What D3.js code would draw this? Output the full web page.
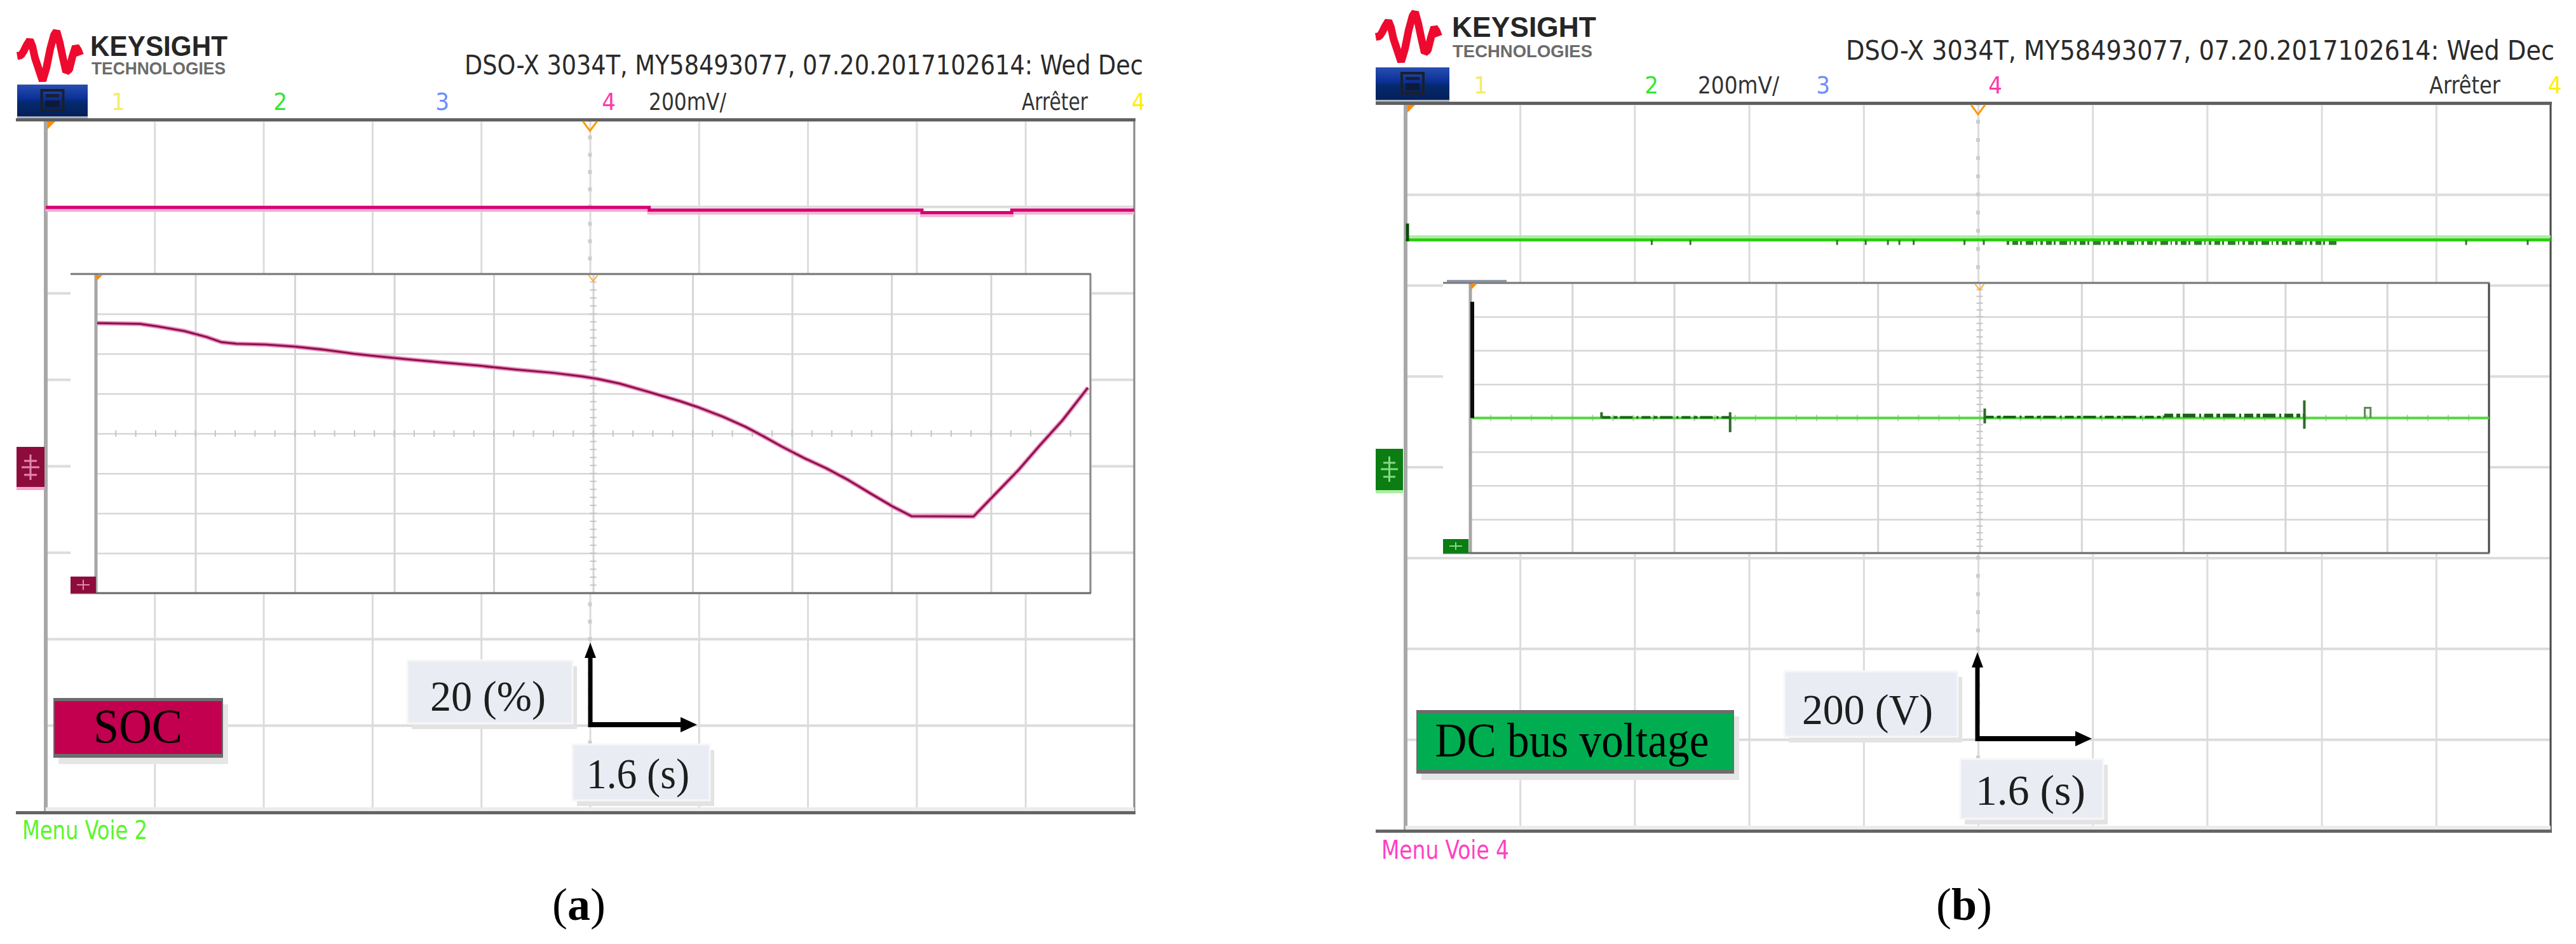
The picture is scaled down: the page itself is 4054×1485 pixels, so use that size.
<!DOCTYPE html>
<html><head><meta charset="utf-8">
<script src="https://cdn.jsdelivr.net/npm/d3@7"></script>
<style>html,body{margin:0;padding:0;background:#fff;}svg{display:block}</style>
</head><body>
<svg id="chart" width="4054" height="1485"></svg>
<script>
// ================= DATA =================
// time axis: 1.6 s / division, 10 divisions ; vertical: 8 divisions
const gridTimes = [0, 1.6, 3.2, 4.8, 6.4, 8, 9.6, 11.2, 12.8, 14.4, 16];
const gridLevels = [0, 1, 2, 3, 4, 5, 6, 7, 8];

// (a) SOC – zoomed inset trace (time s, level in divisions from bottom)
const socTime  = [0.02, 0.71, 1.01, 1.42, 1.78, 2.02, 2.26, 2.73, 3.20, 3.68, 4.15, 4.63, 5.10, 5.58, 6.17, 6.77, 7.36, 7.83, 8.07, 8.43, 8.90, 9.38, 9.67, 10.09, 10.45, 10.74, 11.04, 11.40, 11.75, 12.11, 12.46, 12.82, 13.12, 14.12, 14.48, 14.84, 15.19, 15.55, 15.96];
const socLevel = [6.77, 6.75, 6.68, 6.57, 6.42, 6.29, 6.25, 6.23, 6.18, 6.10, 6.00, 5.92, 5.85, 5.78, 5.70, 5.60, 5.52, 5.43, 5.37, 5.25, 5.04, 4.82, 4.67, 4.42, 4.17, 3.93, 3.67, 3.38, 3.13, 2.83, 2.50, 2.17, 1.93, 1.92, 2.50, 3.08, 3.71, 4.33, 5.15];
// (a) SOC – full-screen trace (step line)
const socOuterTime  = [0, 8.87, 12.88, 14.20, 16];
const socOuterLevel = [6.99, 6.96, 6.93, 6.96, 6.96];

// (b) DC bus voltage – zoomed inset trace
const busTime  = [0.03, 16];
const busLevel = [4.0, 4.0];
const busStartSpikeTime = 0.03, busStartSpikeLevel = 7.44;
const busSpikeTime = [2.06, 4.08, 8.08, 13.10];
const busSpikeLow  = [4.00, 3.58, 3.84, 3.68];
const busSpikeHigh = [4.17, 4.17, 4.28, 4.52];
const busPulseTime = [14.05, 14.14];
const busPulseLevel = 4.30;
const busNoiseStart = [2.06, 8.08, 10.9];
const busNoiseEnd   = [4.08, 10.9, 13.10];
const busNoiseLevel = [4.02, 4.03, 4.07];
// (b) DC bus voltage – full-screen trace
const busOuterTime  = [0, 16];
const busOuterLevel = [6.5, 6.5];
const busOuterSpikeLevel = 6.68;
const busOuterGlitchTime = [3.44, 3.98, 6.03, 6.43, 6.74, 6.90, 7.10, 7.81, 8.08, 14.82, 15.68];
const busOuterNoiseStart = 8.40, busOuterNoiseEnd = 13.04;

// texts
const headerText = "DSO-X 3034T, MY58493077, 07.20.2017102614: Wed Dec";
const chanLabelsA = ["1", "2", "3", "4", "200mV/", "Arrêter"];
const chanLabelsB = ["1", "2", "200mV/", "3", "4", "Arrêter"];

// ================= LAYOUT / STYLE =================
const svg = d3.select("#chart");
svg.append("rect").attr("width", 4054).attr("height", 1485).attr("fill", "#fff");
const defs = svg.append("defs");

const NARROW = "'Liberation Sans Narrow','DejaVu Sans Condensed','Liberation Sans',sans-serif";
const SERIF = "'Liberation Serif','Times New Roman',serif";

const panels = [
  {
    id: "a", logo: [27, 47], kx: 142, ky: 88, tx: 144, ty: 117, kw: 216, tw: 211,
    header: { x: 731, y: 117, w: 1068 }, btn: [27, 133, 111, 50], lblY: 173,
    labels: chanLabelsA,
    lblPos: [{ x: 186, c: "#f2ec6a" }, { x: 441, c: "#33e633" }, { x: 696, c: "#6b8cff" }, { x: 958, c: "#ff3aa6" }, { x: 1021, w: 122, c: "#333" }, { x: 1608, w: 104, c: "#333" }],
    yel: 1781, clipR: 1800,
    bar0: 25, sx0: 72, sx1: 1785, sy0: 189, sy1: 1277,
    ix: 111, ix0: 151, ix1: 1716, iy0: 431, iy1: 933,
    chMark: [26, 703, 44, 63], inMark: [111, 907, 40, 26], markCol: "#8e0c3c", markLight: "#f6a8cc",
    rightCol: "#8a8a8a", insetRightCol: "#8c8c8c",
    tag: { x: 84, y: 1098, w: 267, h: 94, fill: "#c2004f", text: "SOC", tx: 217, ty: 1168, fs: 76, tw: 140 },
    vbox: { x: 641, y: 1039, w: 260, h: 99, text: "20 (%)", tx: 677, ty: 1118, tw: 182 },
    hbox: { x: 901, y: 1171, w: 216, h: 88, text: "1.6 (s)", tx: 923, ty: 1240, tw: 162 },
    arrow: { x: 929, top: 1011, y: 1140, right: 1097 },
    menu: { text: "Menu Voie 2", x: 35, y: 1320, w: 197, c: "#5cf52a" },
    cap: { t: "a", x: 911, y: 1447 }
  },
  {
    id: "b", logo: [2165, 17], kx: 2285, ky: 58, tx: 2286, ty: 90, kw: 227, tw: 220,
    header: { x: 2905, y: 94, w: 1115 }, btn: [2165, 106, 116, 51], lblY: 147,
    labels: chanLabelsB,
    lblPos: [{ x: 2330, c: "#f2ec6a" }, { x: 2599, c: "#33e633" }, { x: 2672, w: 128, c: "#333" }, { x: 2869, c: "#6b8cff" }, { x: 3140, c: "#ff3aa6" }, { x: 3823, w: 112, c: "#333" }],
    yel: 4010, clipR: 4054,
    bar0: 2165, sx0: 2212, sx1: 4014, sy0: 163, sy1: 1306,
    ix: 2271, ix0: 2314, ix1: 3917, iy0: 445, iy1: 870,
    chMark: [2165, 706, 43, 65], inMark: [2271, 848, 40, 22], markCol: "#0b7d12", markLight: "#a8f0a0",
    rightCol: "#4a4a4a", insetRightCol: "#454545",
    tag: { x: 2229, y: 1117, w: 500, h: 100, fill: "#00ad50", text: "DC bus voltage", tx: 2474, ty: 1190, fs: 76, tw: 431 },
    vbox: { x: 2808, y: 1056, w: 273, h: 103, text: "200 (V)", tx: 2836, ty: 1139, tw: 206 },
    hbox: { x: 3085, y: 1194, w: 225, h: 94, text: "1.6 (s)", tx: 3109, ty: 1266, tw: 173 },
    arrow: { x: 3112, top: 1026, y: 1162, right: 3292 },
    menu: { text: "Menu Voie 4", x: 2174, y: 1351, w: 201, c: "#ff40c4" },
    cap: { t: "b", x: 3091, y: 1447 }
  }
];

function gridAxes(g, xs, ys, y0, y1, x0, x1, col, wv, wh) {
  g.append("g").attr("transform", `translate(0,${y1})`)
    .call(d3.axisBottom(xs).tickValues(gridTimes).tickSize(-(y1 - y0)).tickFormat(""))
    .call(s => { s.select(".domain").remove(); s.selectAll("line").attr("stroke", col).attr("stroke-width", wv); });
  g.append("g").attr("transform", `translate(${x0},0)`)
    .call(d3.axisLeft(ys).tickValues(gridLevels).tickSize(-(x1 - x0)).tickFormat(""))
    .call(s => { s.select(".domain").remove(); s.selectAll("line").attr("stroke", col).attr("stroke-width", wh); });
}

panels.forEach(P => {
  const g = svg.append("g");
  defs.append("clipPath").attr("id", "clip" + P.id).append("rect")
    .attr("x", P.bar0 - 30).attr("y", 0).attr("width", P.clipR - P.bar0 + 30).attr("height", 1485);
  const gc = g.append("g").attr("clip-path", `url(#clip${P.id})`);

  // ---- logo ----
  const [lx, ly] = P.logo;
  const wave = [[0, 41], [6, 40], [10, 34], [15, 24], [20, 16], [24, 26], [28, 44], [34, 62], [40, 80], [46, 60], [52, 30], [58, 8], [62, 2], [67, 20], [72, 44], [77, 66], [82, 62], [87, 42], [92, 26], [96, 32], [99, 40]];
  gc.append("path").attr("d", d3.line().x(d => lx + d[0]).y(d => ly + d[1])(wave))
    .attr("fill", "none").attr("stroke", "#ee0a2e").attr("stroke-width", 12).attr("stroke-linejoin", "bevel");
  gc.append("text").attr("x", P.kx).attr("y", P.ky).text("KEYSIGHT")
    .attr("font-family", "'Liberation Sans',Arial,sans-serif").attr("font-weight", "bold").attr("font-size", 45)
    .attr("fill", "#262626").attr("textLength", P.kw).attr("lengthAdjust", "spacingAndGlyphs");
  gc.append("text").attr("x", P.tx).attr("y", P.ty).text("TECHNOLOGIES")
    .attr("font-family", "'Liberation Sans',Arial,sans-serif").attr("font-weight", "bold").attr("font-size", 27)
    .attr("fill", "#6b6b6b").attr("textLength", P.tw).attr("lengthAdjust", "spacingAndGlyphs");

  // ---- header ----
  gc.append("text").attr("x", P.header.x).attr("y", P.header.y).text(headerText)
    .attr("font-family", NARROW).attr("font-size", 42).attr("fill", "#2a2a2a")
    .attr("textLength", P.header.w).attr("lengthAdjust", "spacingAndGlyphs");

  // ---- menu button ----
  const [bx, by, bw, bh] = P.btn;
  const grad = defs.append("linearGradient").attr("id", "btn" + P.id).attr("x1", 0).attr("x2", 0).attr("y1", 0).attr("y2", 1);
  grad.append("stop").attr("offset", 0).attr("stop-color", "#2a4fb0");
  grad.append("stop").attr("offset", 0.45).attr("stop-color", "#0a2f96");
  grad.append("stop").attr("offset", 0.55).attr("stop-color", "#052a6e");
  grad.append("stop").attr("offset", 1).attr("stop-color", "#041f5a");
  gc.append("rect").attr("x", bx).attr("y", by).attr("width", bw).attr("height", bh).attr("fill", `url(#btn${P.id})`);
  gc.append("rect").attr("x", bx).attr("y", by + bh).attr("width", bw).attr("height", 5).attr("fill", "#aab4c4");
  gc.append("rect").attr("x", bx + bw / 2 - 17).attr("y", by + 9).attr("width", 34).attr("height", 32)
    .attr("fill", "none").attr("stroke", "#1a1f2e").attr("stroke-width", 4);
  gc.append("rect").attr("x", bx + bw / 2 - 11).attr("y", by + 15).attr("width", 22).attr("height", 5).attr("fill", "#1a1f2e");
  gc.append("rect").attr("x", bx + bw / 2 - 11).attr("y", by + 25).attr("width", 22).attr("height", 11).attr("fill", "#0f1a3a");

  // ---- channel labels ----
  P.labels.forEach((t, i) => {
    const p = P.lblPos[i];
    const tx = gc.append("text").attr("x", p.x).attr("y", P.lblY).text(t)
      .attr("font-family", NARROW).attr("font-size", 38).attr("fill", p.c)
      .attr("text-anchor", p.w ? "start" : "middle");
    if (p.w) tx.attr("textLength", p.w).attr("lengthAdjust", "spacingAndGlyphs");
  });
  gc.append("text").attr("x", P.yel).attr("y", P.lblY).text("4").attr("font-family", NARROW)
    .attr("font-size", 38).attr("fill", "#ffee00");

  // ---- outer screen ----
  const xO = d3.scaleLinear().domain([0, 16]).range([P.sx0, P.sx1]);
  const yO = d3.scaleLinear().domain([0, 8]).range([P.sy1, P.sy0]);
  gridAxes(g, xO, yO, P.sy0, P.sy1, P.sx0, P.sx1, "#dcdcdc", 3, 4);
  // centre dotted ticks
  const cx = xO(8);
  g.selectAll(null).data(d3.range(0, 8.001, 0.2)).join("rect")
    .attr("x", cx - 3).attr("y", d => yO(d) - 3).attr("width", 6).attr("height", 6).attr("fill", "#cdcdcd");
  // borders
  g.append("line").attr("x1", P.sx0).attr("x2", P.sx0).attr("y1", P.sy0).attr("y2", P.sy1).attr("stroke", "#a8a8a8").attr("stroke-width", 6);
  g.append("line").attr("x1", P.sx1).attr("x2", P.sx1).attr("y1", P.sy0).attr("y2", P.sy1).attr("stroke", P.rightCol).attr("stroke-width", 3);
  g.append("rect").attr("x", P.sx0).attr("y", P.sy1 - 7).attr("width", P.sx1 - P.sx0).attr("height", 6).attr("fill", "#ececec");
  g.append("rect").attr("x", P.bar0).attr("y", P.sy0 - 3).attr("width", P.sx1 - P.bar0 + 2).attr("height", 5).attr("fill", "#616161");
  g.append("rect").attr("x", P.bar0).attr("y", P.sy1 - 1).attr("width", P.sx1 - P.bar0 + 2).attr("height", 5).attr("fill", "#646464");
  // trigger markers
  g.append("path").attr("d", `M${P.sx0 - 1},${P.sy0 + 2}h16l-12,12v-12z`).attr("fill", "#ff8a00");
  g.append("path").attr("d", `M${cx - 11},${P.sy0 + 2}L${cx},${P.sy0 + 17}L${cx + 11},${P.sy0 + 2}`)
    .attr("fill", "none").attr("stroke", "#ff9a10").attr("stroke-width", 3);

  // channel marker on the left
  const [mx, my, mw, mh] = P.chMark;
  g.append("rect").attr("x", mx).attr("y", my).attr("width", mw).attr("height", mh).attr("fill", P.markCol);
  g.append("rect").attr("x", mx).attr("y", my + mh).attr("width", mw).attr("height", 5).attr("fill", P.markLight);
  g.append("path").attr("d", `M${mx + 8},${my + 32}h${mw - 16}M${mx + mw / 2},${my + 12}v40M${mx + 12},${my + 22}h${mw - 24}M${mx + 12},${my + 44}h${mw - 24}`)
    .attr("stroke", P.markLight).attr("stroke-width", 3).attr("opacity", 0.8);

  // outer traces
  if (P.id === "a") {
    const lo = d3.line().curve(d3.curveStepAfter).x((d, i) => xO(socOuterTime[i])).y(d => yO(d));
    g.append("path").attr("d", lo(socOuterLevel)).attr("transform", "translate(0,4)")
      .attr("fill", "none").attr("stroke", "#f3b1d1").attr("stroke-width", 6);
    g.append("path").attr("d", lo(socOuterLevel)).attr("fill", "none").attr("stroke", "#d80076").attr("stroke-width", 5);
  } else {
    const lo = d3.line().x((d, i) => xO(busOuterTime[i])).y(d => yO(d));
    g.append("path").attr("d", lo(busOuterLevel)).attr("transform", "translate(0,-5)")
      .attr("fill", "none").attr("stroke", "#aeeaa4").attr("stroke-width", 4);
    g.append("path").attr("d", lo(busOuterLevel)).attr("fill", "none").attr("stroke", "#27cf0a").attr("stroke-width", 5);
    g.append("line").attr("x1", xO(0) + 3).attr("x2", xO(0) + 3).attr("y1", yO(busOuterSpikeLevel)).attr("y2", yO(busOuterLevel[0]) + 2)
      .attr("stroke", "#0b4a0b").attr("stroke-width", 5);
    g.selectAll(null).data(busOuterGlitchTime).join("line")
      .attr("x1", d => xO(d)).attr("x2", d => xO(d)).attr("y1", yO(6.5)).attr("y2", yO(6.5) + 8)
      .attr("stroke", "#2c7d22").attr("stroke-width", 3);
    g.append("line").attr("x1", xO(busOuterNoiseStart)).attr("x2", xO(busOuterNoiseEnd))
      .attr("y1", yO(6.5) + 5).attr("y2", yO(6.5) + 5).attr("stroke", "#2e7e26").attr("stroke-width", 6)
      .attr("stroke-dasharray", "4 5 9 3 3 6 12 4 2 5");
  }

  // ---- inset (zoomed view) ----
  const xI = d3.scaleLinear().domain([0, 16]).range([P.ix0, P.ix1]);
  const yI = d3.scaleLinear().domain([0, 8]).range([P.iy1, P.iy0]);
  g.append("rect").attr("x", P.ix).attr("y", P.iy0).attr("width", P.ix1 - P.ix).attr("height", P.iy1 - P.iy0).attr("fill", "#fff");
  gridAxes(g, xI, yI, P.iy0, P.iy1, P.ix0, P.ix1, "#d6d6d6", 3, 2.5);
  const icx = xI(8), icy = yI(4);
  g.selectAll(null).data(d3.range(0, 8.001, 0.2)).join("line")
    .attr("x1", icx - 5).attr("x2", icx + 5).attr("y1", d => yI(d)).attr("y2", d => yI(d)).attr("stroke", "#c4c4c4").attr("stroke-width", 2);
  g.selectAll(null).data(d3.range(0, 16.001, 0.32)).join("line")
    .attr("x1", d => xI(d)).attr("x2", d => xI(d)).attr("y1", icy - 5).attr("y2", icy + 5).attr("stroke", "#c4c4c4").attr("stroke-width", 2);
  g.append("line").attr("x1", P.ix0).attr("x2", P.ix0).attr("y1", P.iy0).attr("y2", P.iy1).attr("stroke", "#a6a6a6").attr("stroke-width", 5);
  g.append("line").attr("x1", P.ix1).attr("x2", P.ix1).attr("y1", P.iy0).attr("y2", P.iy1).attr("stroke", P.insetRightCol).attr("stroke-width", 3);
  g.append("line").attr("x1", P.ix).attr("x2", P.ix1 + 1).attr("y1", P.iy0).attr("y2", P.iy0).attr("stroke", "#777").attr("stroke-width", 3);
  g.append("line").attr("x1", P.ix).attr("x2", P.ix1 + 1).attr("y1", P.iy1).attr("y2", P.iy1).attr("stroke", "#6a6a6a").attr("stroke-width", 3);
  g.append("path").attr("d", `M${P.ix0},${P.iy0 + 2}h10l-8,8z`).attr("fill", "#ff8a00");
  g.append("path").attr("d", `M${icx - 7},${P.iy0 + 2}L${icx},${P.iy0 + 11}L${icx + 7},${P.iy0 + 2}`)
    .attr("fill", "none").attr("stroke", "#ffab30").attr("stroke-width", 2);
  const [nx, ny, nw, nh] = P.inMark;
  g.append("rect").attr("x", nx).attr("y", ny).attr("width", nw).attr("height", nh).attr("fill", P.markCol);
  g.append("path").attr("d", `M${nx + 10},${ny + nh / 2}h${nw - 20}M${nx + nw / 2},${ny + 5}v${nh - 10}`)
    .attr("stroke", P.markLight).attr("stroke-width", 2).attr("opacity", 0.8);

  if (P.id === "a") {
    const li = d3.line().x((d, i) => xI(socTime[i])).y(d => yI(d));
    g.append("path").attr("d", li(socLevel)).attr("fill", "none").attr("stroke", "#ea8fbf").attr("stroke-width", 7).attr("stroke-linejoin", "round");
    g.append("path").attr("d", li(socLevel)).attr("fill", "none").attr("stroke", "#8c0f4a").attr("stroke-width", 3).attr("stroke-linejoin", "round");
  } else {
    g.append("line").attr("x1", P.ix + 6).attr("x2", P.ix + 100).attr("y1", P.iy0 - 3).attr("y2", P.iy0 - 3).attr("stroke", "#7e8aa0").attr("stroke-width", 3);
    const li = d3.line().x((d, i) => xI(busTime[i])).y(d => yI(d));
    g.append("path").attr("d", li(busLevel)).attr("fill", "none").attr("stroke", "#4fd83c").attr("stroke-width", 4);
    g.append("line").attr("x1", xI(busStartSpikeTime)).attr("x2", xI(busStartSpikeTime))
      .attr("y1", yI(busStartSpikeLevel)).attr("y2", yI(4.0)).attr("stroke", "#0b0b0b").attr("stroke-width", 6);
    g.selectAll(null).data(busNoiseStart).join("line")
      .attr("x1", d => xI(d)).attr("x2", (d, i) => xI(busNoiseEnd[i]))
      .attr("y1", (d, i) => yI(busNoiseLevel[i])).attr("y2", (d, i) => yI(busNoiseLevel[i]))
      .attr("stroke", "#1f5f1c").attr("stroke-width", (d, i) => i === 2 ? 6 : 4)
      .attr("stroke-dasharray", "14 5 6 4 20 6 3 5");
    g.selectAll(null).data(busSpikeTime).join("line")
      .attr("x1", d => xI(d)).attr("x2", d => xI(d))
      .attr("y1", (d, i) => yI(busSpikeHigh[i])).attr("y2", (d, i) => yI(busSpikeLow[i]))
      .attr("stroke", "#2d6a2a").attr("stroke-width", 4);
    g.append("path").attr("d", `M${xI(busPulseTime[0])},${yI(4)}V${yI(busPulseLevel)}H${xI(busPulseTime[1])}V${yI(4)}`)
      .attr("fill", "none").attr("stroke", "#5c8a58").attr("stroke-width", 3);
  }

  // ---- annotation labels ----
  const T = P.tag;
  g.append("rect").attr("x", T.x + 8).attr("y", T.y + 10).attr("width", T.w).attr("height", T.h).attr("fill", "#e6e6e6");
  g.append("rect").attr("x", T.x).attr("y", T.y).attr("width", T.w).attr("height", T.h).attr("fill", "#6c6c6c");
  g.append("rect").attr("x", T.x + 2).attr("y", T.y + 5).attr("width", T.w - 4).attr("height", T.h - 11).attr("fill", T.fill);
  g.append("text").attr("x", T.tx).attr("y", T.ty).attr("text-anchor", "middle").text(T.text)
    .attr("font-family", SERIF).attr("font-size", T.fs).attr("fill", "#000")
    .attr("textLength", T.tw).attr("lengthAdjust", "spacingAndGlyphs");

  [P.vbox, P.hbox].forEach(B => {
    g.append("rect").attr("x", B.x + 7).attr("y", B.y + 9).attr("width", B.w).attr("height", B.h).attr("fill", "#e3e3e3");
    g.append("rect").attr("x", B.x).attr("y", B.y).attr("width", B.w).attr("height", B.h).attr("fill", "#e9edf3")
      .attr("stroke", "#f7f7f7").attr("stroke-width", 3);
    g.append("text").attr("x", B.tx).attr("y", B.ty).text(B.text)
      .attr("font-family", SERIF).attr("font-size", 68).attr("fill", "#1e1e1e")
      .attr("textLength", B.tw).attr("lengthAdjust", "spacingAndGlyphs");
  });

  const A = P.arrow;
  g.append("line").attr("x1", A.x).attr("x2", A.x).attr("y1", A.top + 22).attr("y2", A.y + 4).attr("stroke", "#000").attr("stroke-width", 7);
  g.append("path").attr("d", `M${A.x},${A.top}L${A.x + 9},${A.top + 24}L${A.x - 9},${A.top + 24}Z`).attr("fill", "#000");
  g.append("line").attr("x1", A.x - 3).attr("x2", A.right - 24).attr("y1", A.y).attr("y2", A.y).attr("stroke", "#000").attr("stroke-width", 8);
  g.append("path").attr("d", `M${A.right},${A.y}L${A.right - 26},${A.y - 12}L${A.right - 26},${A.y + 12}Z`).attr("fill", "#000");

  // menu text
  g.append("text").attr("x", P.menu.x).attr("y", P.menu.y).text(P.menu.text)
    .attr("font-family", NARROW).attr("font-size", 40).attr("fill", P.menu.c)
    .attr("textLength", P.menu.w).attr("lengthAdjust", "spacingAndGlyphs");

  // caption
  const cap = g.append("text").attr("x", P.cap.x).attr("y", P.cap.y).attr("text-anchor", "middle")
    .attr("font-family", SERIF).attr("font-size", 72).attr("fill", "#000");
  cap.append("tspan").text("(");
  cap.append("tspan").attr("font-weight", "bold").text(P.cap.t);
  cap.append("tspan").text(")");
});
</script>
</body></html>
